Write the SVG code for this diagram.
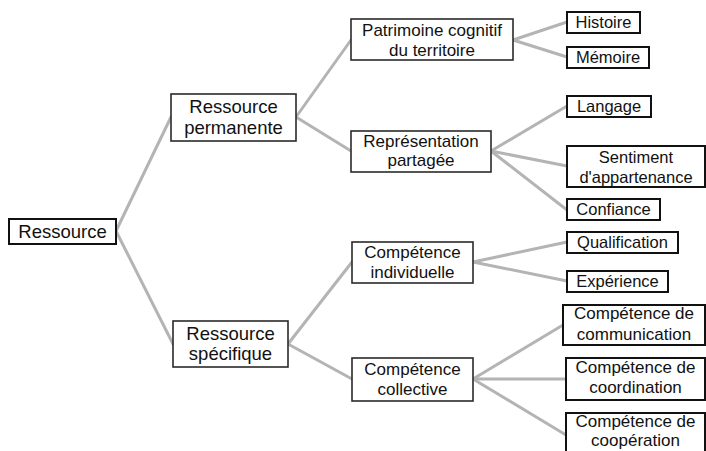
<svg xmlns="http://www.w3.org/2000/svg" width="706" height="451" viewBox="0 0 706 451">
<style>
.b{fill:#fff;stroke:#2a2a2a;stroke-width:1.6}
.lf{fill:#fff;stroke:#111;stroke-width:2}
.t{font-family:"Liberation Sans",Arial,sans-serif;fill:#111;text-anchor:middle}
.s1{font-size:18.5px}
.s2{font-size:17px}
.s3{font-size:16.5px}
.c line{stroke:#b4b4b4;stroke-width:3;stroke-linecap:round}
</style>
<rect width="706" height="451" fill="#fff"/>
<g class="c" id="connectors">
<line x1="116" y1="231" x2="171" y2="117"/>
<line x1="116" y1="231" x2="173" y2="344"/>
<line x1="296" y1="117" x2="351" y2="40"/>
<line x1="296" y1="117" x2="351" y2="151"/>
<line x1="513" y1="40" x2="567" y2="22"/>
<line x1="513" y1="40" x2="567" y2="57"/>
<line x1="491" y1="151" x2="567" y2="106"/>
<line x1="491" y1="151" x2="567" y2="166"/>
<line x1="491" y1="151" x2="567" y2="210"/>
<line x1="288" y1="344" x2="352" y2="262"/>
<line x1="288" y1="344" x2="352" y2="379"/>
<line x1="473" y1="262" x2="567" y2="242"/>
<line x1="473" y1="262" x2="567" y2="281"/>
<line x1="473" y1="379" x2="563" y2="325"/>
<line x1="473" y1="379" x2="566" y2="379"/>
<line x1="473" y1="379" x2="566" y2="435"/>
</g>
<g id="n-ressource"><rect class="lf" x="9" y="219" width="107" height="25"/><text class="t s1" x="62.5" y="238">Ressource</text></g>
<g id="n-permanente"><rect class="b" x="171" y="94" width="125" height="47"/><text class="t s1" x="233.5" y="113">Ressource</text><text class="t s1" x="233.5" y="134">permanente</text></g>
<g id="n-specifique"><rect class="b" x="173" y="321" width="115" height="46"/><text class="t s1" x="230.5" y="340">Ressource</text><text class="t s1" x="230.5" y="360">spécifique</text></g>
<g id="n-patrimoine"><rect class="b" x="351" y="19" width="162" height="41"/><text class="t s2" x="432" y="36">Patrimoine cognitif</text><text class="t s2" x="432" y="56">du territoire</text></g>
<g id="n-representation"><rect class="b" x="351" y="131" width="140" height="41"/><text class="t s2" x="421" y="147">Représentation</text><text class="t s2" x="421" y="166">partagée</text></g>
<g id="n-individuelle"><rect class="b" x="352" y="242" width="121" height="41"/><text class="t s2" x="412.5" y="258">Compétence</text><text class="t s2" x="412.5" y="278">individuelle</text></g>
<g id="n-collective"><rect class="b" x="352" y="358" width="121" height="43"/><text class="t s2" x="412.5" y="375">Compétence</text><text class="t s2" x="412.5" y="395">collective</text></g>
<g id="n-histoire"><rect class="lf" x="567" y="12" width="73" height="21"/><text class="t s3" x="603.5" y="28">Histoire</text></g>
<g id="n-memoire"><rect class="lf" x="567" y="47" width="82" height="21"/><text class="t s3" x="608" y="63">Mémoire</text></g>
<g id="n-langage"><rect class="lf" x="567" y="96" width="84" height="21"/><text class="t s3" x="609" y="112">Langage</text></g>
<g id="n-sentiment"><rect class="lf" x="567" y="146" width="138" height="41"/><text class="t s3" x="636" y="163">Sentiment</text><text class="t s3" x="636" y="183">d'appartenance</text></g>
<g id="n-confiance"><rect class="lf" x="567" y="199" width="93" height="21"/><text class="t s3" x="613.5" y="215">Confiance</text></g>
<g id="n-qualification"><rect class="lf" x="567" y="232" width="111" height="21"/><text class="t s3" x="622.5" y="248">Qualification</text></g>
<g id="n-experience"><rect class="lf" x="567" y="271" width="101" height="21"/><text class="t s3" x="617.5" y="287">Expérience</text></g>
<g id="n-communication"><rect class="lf" x="563" y="305" width="142" height="40"/><text class="t s2" x="634" y="319">Compétence de</text><text class="t s2" x="634" y="340">communication</text></g>
<g id="n-coordination"><rect class="lf" x="566" y="358" width="139" height="42"/><text class="t s2" x="635.5" y="373">Compétence de</text><text class="t s2" x="635.5" y="393">coordination</text></g>
<g id="n-cooperation"><rect class="lf" x="566" y="413" width="139" height="45"/><text class="t s2" x="635.5" y="427">Compétence de</text><text class="t s2" x="635.5" y="446">coopération</text></g>
</svg>
